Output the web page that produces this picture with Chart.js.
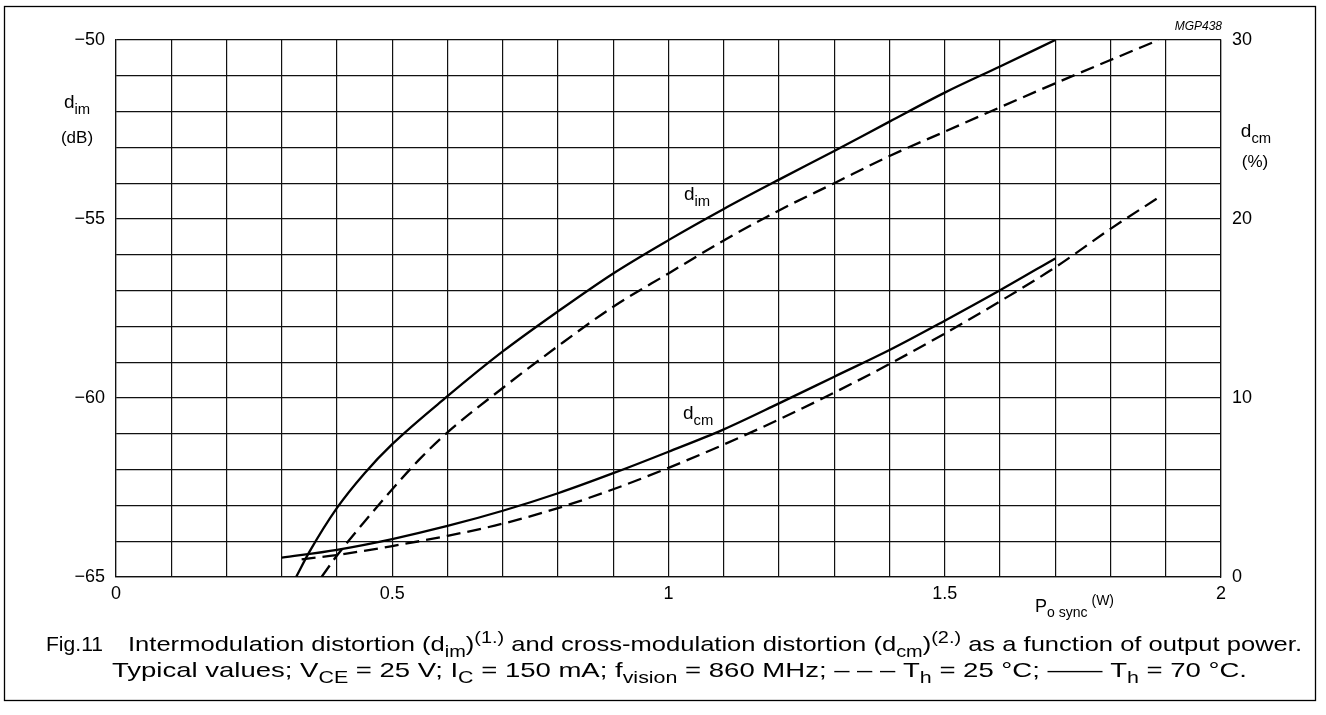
<!DOCTYPE html>
<html>
<head>
<meta charset="utf-8">
<script src="https://cdn.jsdelivr.net/npm/chart.js@4/dist/chart.umd.min.js"></script>
<style>
  html, body { margin: 0; padding: 0; background: #fff; }
  canvas { display: block; }
</style>
</head>
<body>
<canvas id="chart" width="1326" height="715"></canvas>
<script>
// d_im (dB), left axis; T_h = 70 °C (solid) and 25 °C (dashed)
const dimHotP  = [0.326, 0.35, 0.4, 0.45, 0.5, 0.6, 0.7, 0.8, 0.9, 1.0, 1.1, 1.2, 1.3, 1.4, 1.5, 1.6, 1.7];
const dimHot   = [-65, -64.3, -63.07, -62.1, -61.29, -59.95, -58.7, -57.58, -56.52, -55.59, -54.72, -53.9, -53.1, -52.28, -51.47, -50.74, -50];
const dimColdP = [0.372, 0.4, 0.45, 0.5, 0.55, 0.6, 0.7, 0.8, 0.9, 1.0, 1.1, 1.2, 1.3, 1.4, 1.5, 1.6, 1.7, 1.8, 1.887];
const dimCold  = [-65, -64.4, -63.45, -62.55, -61.7, -60.96, -59.72, -58.55, -57.45, -56.52, -55.6, -54.76, -54.0, -53.24, -52.56, -51.88, -51.21, -50.56, -50];

// d_cm (%), right axis
const dcmHotP  = [0.3, 0.4, 0.5, 0.6, 0.7, 0.8, 0.9, 1.0, 1.1, 1.2, 1.3, 1.4, 1.5, 1.6, 1.7];
const dcmHot   = [1.08, 1.52, 2.12, 2.85, 3.7, 4.68, 5.8, 7.0, 8.25, 9.7, 11.19, 12.68, 14.32, 16.02, 17.8];
const dcmColdP = [0.336, 0.4, 0.5, 0.6, 0.7, 0.8, 0.9, 1.0, 1.1, 1.2, 1.3, 1.4, 1.5, 1.6, 1.7, 1.8, 1.887];
const dcmCold  = [0.99, 1.23, 1.73, 2.3, 2.98, 3.85, 4.9, 6.1, 7.4, 8.8, 10.3, 11.9, 13.6, 15.4, 17.3, 19.45, 21.2];

// axis ticks that carry a label
const xLabels  = [0, 0.5, 1, 1.5, 2];
const yLabels  = [-65, -60, -55, -50];
const y2Labels = [0, 10, 20, 30];

const FONT = "'Liberation Sans', Arial, sans-serif";
const pts = (xs, ys) => xs.map((x, i) => ({ x, y: ys[i] }));
const near = (v, list) => list.some(l => Math.abs(v - l) < 1e-6);
const fmt = v => (v < 0 ? '\u2212' + Math.abs(v) : String(v));

const curve = (data, axis, dashed) => ({
    data,
    yAxisID: axis,
    showLine: true,
    borderColor: '#000',
    borderWidth: 2.3,
    borderDash: dashed ? [14, 7] : [],
    pointRadius: 0,
    cubicInterpolationMode: 'monotone',
    fill: false
});

/* ---------- rich text helper (sub/superscripts) ---------- */
function partFont(size, mode, style) {
    const s = mode ? size * 0.78 : size;
    return `${style || ''} ${s}px ${FONT}`;
}
function richWidth(ctx, parts, size, style) {
    let w = 0;
    parts.forEach(([t, m]) => { ctx.font = partFont(size, m, style); w += ctx.measureText(t).width; });
    return w;
}
function drawRich(ctx, parts, x, y, size, opts = {}) {
    const natural = richWidth(ctx, parts, size, opts.style);
    let sx = opts.width ? opts.width / natural : 1;
    let start = x;
    if (opts.align === 'center') start = x - natural * sx / 2;
    if (opts.align === 'right') start = x - natural * sx;
    ctx.save();
    ctx.translate(start, y);
    ctx.scale(sx, 1);
    ctx.textBaseline = 'alphabetic';
    ctx.textAlign = 'left';
    ctx.fillStyle = '#000';
    let cx = 0;
    parts.forEach(([t, m]) => {
        ctx.font = partFont(size, m, opts.style);
        const dy = m === 'sub' ? size * 0.3 : m === 'sup' ? -size * 0.38 : 0;
        ctx.fillText(t, cx, dy);
        cx += ctx.measureText(t).width;
    });
    ctx.restore();
}

/* ---------- annotations ---------- */
const annotations = {
    id: 'annotations',
    afterDraw(chart) {
        const ctx = chart.ctx;

        // outer frame
        ctx.save();
        ctx.strokeStyle = '#000';
        ctx.lineWidth = 1.3;
        ctx.strokeRect(4.5, 6.5, 1311, 694);
        ctx.restore();

        // axis titles
        drawRich(ctx, [['d', ''], ['im', 'sub']], 77, 108, 19, { align: 'center' });
        drawRich(ctx, [['(dB)', '']], 77, 143, 17, { align: 'center' });
        drawRich(ctx, [['d', ''], ['cm', 'sub']], 1256, 137, 19, { align: 'center' });
        drawRich(ctx, [['(%)', '']], 1255, 167, 17, { align: 'center' });
        drawRich(ctx, [['P', ''], ['o sync', 'sub'], [' (W)', 'sup']], 1035, 612, 18);

        // curve labels
        drawRich(ctx, [['d', ''], ['im', 'sub']], 684, 200, 19);
        drawRich(ctx, [['d', ''], ['cm', 'sub']], 683, 419, 19);

        // figure code
        drawRich(ctx, [['MGP438', '']], 1222, 30, 12, { align: 'right', style: 'italic' });

        // caption
        drawRich(ctx, [['Fig.11', '']], 46, 651, 21, { width: 57 });
        drawRich(ctx, [
            ['Intermodulation distortion (d', ''], ['im', 'sub'], [')', ''], ['(1.)', 'sup'],
            [' and cross-modulation distortion (d', ''], ['cm', 'sub'], [')', ''], ['(2.)', 'sup'],
            [' as a function of output power.', '']
        ], 128, 651, 21, { width: 1174 });
        drawRich(ctx, [
            ['Typical values; V', ''], ['CE', 'sub'], [' = 25 V; I', ''], ['C', 'sub'],
            [' = 150 mA; f', ''], ['vision', 'sub'], [' = 860 MHz; \u2013 \u2013 \u2013 T', ''], ['h', 'sub'],
            [' = 25 \u00B0C; \u2014\u2014 T', ''], ['h', 'sub'], [' = 70 \u00B0C.', '']
        ], 112, 677, 21, { width: 1135 });
    }
};

const gridStyle = { color: '#111', lineWidth: 1.2, drawTicks: false };
const tickFont = { family: FONT, size: 18 };

new Chart(document.getElementById('chart'), {
    type: 'scatter',
    data: {
        datasets: [
            curve(pts(dimHotP, dimHot), 'y', false),
            curve(pts(dimColdP, dimCold), 'y', true),
            curve(pts(dcmHotP, dcmHot), 'y2', false),
            curve(pts(dcmColdP, dcmCold), 'y2', true)
        ]
    },
    options: {
        responsive: false,
        animation: false,
        devicePixelRatio: 1,
        layout: { padding: { top: 40, left: 0, right: 0, bottom: 0 } },
        plugins: { legend: { display: false }, tooltip: { enabled: false } },
        scales: {
            x: {
                type: 'linear', min: 0, max: 2,
                grid: gridStyle,
                border: { color: '#111', width: 1.2 },
                ticks: {
                    stepSize: 0.1, autoSkip: false, maxRotation: 0, padding: 6,
                    color: '#000', font: tickFont,
                    callback: v => near(v, xLabels) ? String(Math.round(v * 10) / 10) : ''
                },
                afterFit: s => { s.height = 138; }
            },
            y: {
                type: 'linear', position: 'left', min: -65, max: -50,
                grid: gridStyle,
                border: { color: '#111', width: 1.2 },
                ticks: {
                    stepSize: 1, autoSkip: false, padding: 11,
                    color: '#000', font: tickFont,
                    callback: v => near(v, yLabels) ? fmt(v) : ''
                },
                afterFit: s => { s.width = 116; }
            },
            y2: {
                type: 'linear', position: 'right', min: 0, max: 30,
                grid: { display: false, drawTicks: false },
                border: { color: '#111', width: 1.2 },
                ticks: {
                    stepSize: 2, autoSkip: false, padding: 11,
                    color: '#000', font: tickFont,
                    callback: v => near(v, y2Labels) ? String(v) : ''
                },
                afterFit: s => { s.width = 105; }
            }
        }
    },
    plugins: [annotations]
});
</script>
</body>
</html>
